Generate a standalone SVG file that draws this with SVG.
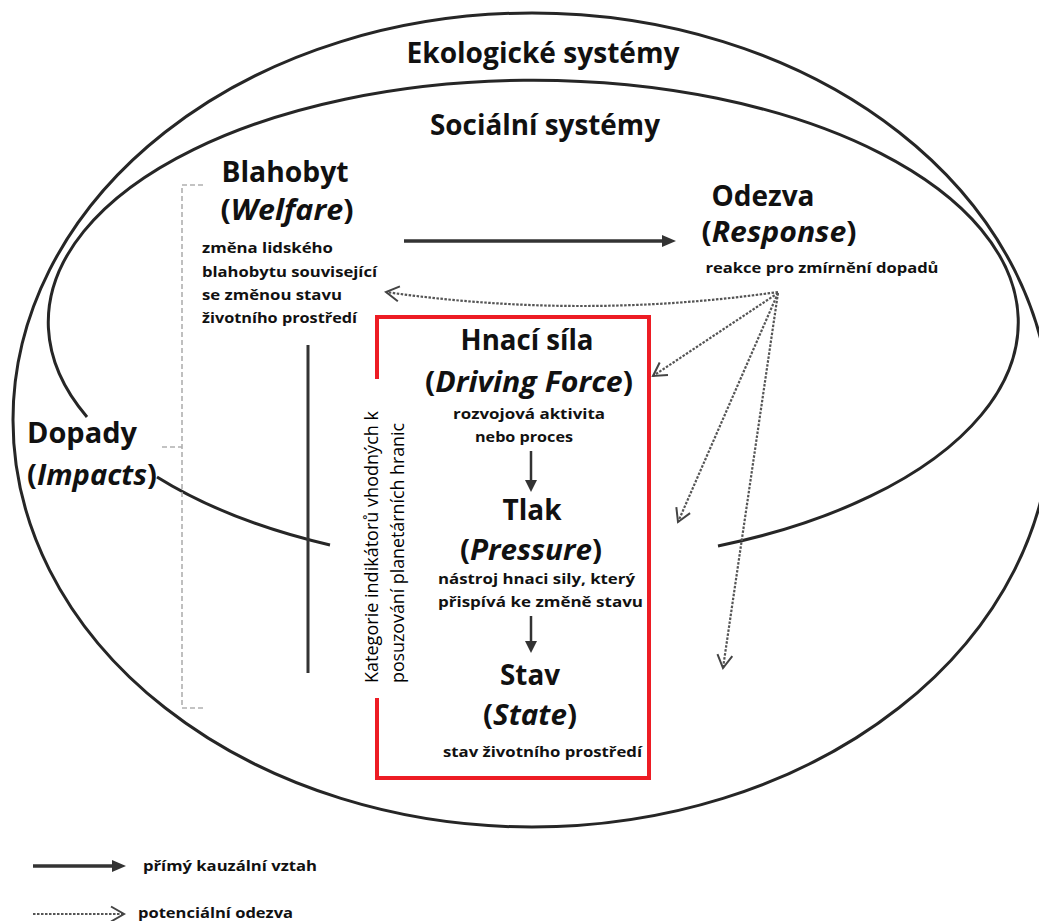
<svg xmlns="http://www.w3.org/2000/svg" width="1039" height="921" viewBox="0 0 1039 921">
<defs>
<style>
.bg{fill:#fff}
.ring{fill:none;stroke:#262626;stroke-width:3}
.t{font-family:"Open Sans","Liberation Sans",sans-serif;fill:#111}
.title{font-size:28px;font-weight:700}
.head{font-size:28px;font-weight:700}
.desc{font-size:15px;font-weight:700}
.side{font-size:18px;font-weight:400;fill:#000}
.leg{font-size:14px;font-weight:700}
.solid{stroke:#333;stroke-width:3.5;fill:none}
.solid2{stroke:#333;stroke-width:2.5;fill:none}
.dot{stroke:#555;stroke-width:2.2;stroke-dasharray:2.5 1.5;fill:none}
.bracket{stroke:#b0b0b0;stroke-width:1.6;stroke-dasharray:5 3;fill:none}
.red{stroke:#ed1c24;stroke-width:4;fill:none}
</style>
<marker id="solidHead" viewBox="0 0 14 12" refX="6" refY="6" markerWidth="14" markerHeight="12" markerUnits="userSpaceOnUse" orient="auto">
<path d="M0,0 L14,6 L0,12 Z" fill="#333"/>
</marker>
<marker id="smallHead" viewBox="0 0 12 12" refX="4" refY="6" markerWidth="12" markerHeight="12" markerUnits="userSpaceOnUse" orient="auto">
<path d="M0,0 L12,6 L0,12 Z" fill="#333"/>
</marker>
<marker id="openHead" viewBox="-16 -10 19 20" refX="0" refY="0" markerWidth="19" markerHeight="20" markerUnits="userSpaceOnUse" orient="auto">
<path d="M-13,-7.5 L0,0 L-13,7.5" fill="none" stroke="#444" stroke-width="2"/>
</marker>
</defs>
<rect class="bg" x="0" y="0" width="1039" height="921"/>

<g id="ecological-systems">
<ellipse class="ring" cx="532" cy="420" rx="519" ry="407"/>
<text class="t title" x="543" y="63" text-anchor="middle" textLength="273" lengthAdjust="spacingAndGlyphs">Ekologické systémy</text>
</g>

<g id="social-systems">
<path class="ring" d="M718,546 A485,242 0 1 0 87,417"/>
<path class="ring" d="M157,477 A485,242 0 0 0 330,545"/>
<text class="t title" x="545" y="135" text-anchor="middle" textLength="230" lengthAdjust="spacingAndGlyphs">Sociální systémy</text>
</g>

<g id="welfare">
<text class="t head" x="285" y="182" text-anchor="middle" textLength="127" lengthAdjust="spacingAndGlyphs">Blahobyt</text>
<text class="t head" x="287" y="220" text-anchor="middle" textLength="133" lengthAdjust="spacingAndGlyphs">(<tspan font-style="italic">Welfare</tspan>)</text>
<text class="t desc" x="202" y="253" textLength="131" lengthAdjust="spacingAndGlyphs">změna lidského</text>
<text class="t desc" x="202" y="277" textLength="175" lengthAdjust="spacingAndGlyphs">blahobytu související</text>
<text class="t desc" x="202" y="300" textLength="140" lengthAdjust="spacingAndGlyphs">se změnou stavu</text>
<text class="t desc" x="202" y="323" textLength="155" lengthAdjust="spacingAndGlyphs">životního prostředí</text>
</g>

<g id="response">
<text class="t head" x="763" y="206" text-anchor="middle" textLength="103" lengthAdjust="spacingAndGlyphs">Odezva</text>
<text class="t head" x="779" y="242" text-anchor="middle" textLength="155" lengthAdjust="spacingAndGlyphs">(<tspan font-style="italic">Response</tspan>)</text>
<text class="t desc" x="822" y="273" text-anchor="middle" textLength="233" lengthAdjust="spacingAndGlyphs">reakce pro zmírnění dopadů</text>
</g>

<g id="impacts">
<text class="t head" x="27" y="443" textLength="110" lengthAdjust="spacingAndGlyphs">Dopady</text>
<text class="t head" x="27" y="485" textLength="130" lengthAdjust="spacingAndGlyphs">(<tspan font-style="italic">Impacts</tspan>)</text>
</g>

<g id="indicator-bracket">
<path class="bracket" d="M203,185 L182,185 L182,708 L203,708 M162,447 L182,447"/>
<line x1="308" y1="345" x2="308" y2="673" stroke="#333" stroke-width="3"/>
<text class="t side" transform="translate(378,683) rotate(-90)" x="0" y="0" textLength="272" lengthAdjust="spacingAndGlyphs">Kategorie indikátorů vhodných k</text>
<text class="t side" transform="translate(404,683) rotate(-90)" x="0" y="0" textLength="260" lengthAdjust="spacingAndGlyphs">posuzování planetárních hranic</text>
</g>

<g id="dpsir-box">
<path class="red" d="M377,379 L377,317 L649,317 L649,778 L377,778 L377,698"/>
</g>

<g id="driving-force">
<text class="t head" x="527" y="350" text-anchor="middle" textLength="133" lengthAdjust="spacingAndGlyphs">Hnací síla</text>
<text class="t head" x="529" y="392" text-anchor="middle" textLength="208" lengthAdjust="spacingAndGlyphs">(<tspan font-style="italic">Driving Force</tspan>)</text>
<text class="t desc" x="529" y="419" text-anchor="middle" textLength="152" lengthAdjust="spacingAndGlyphs">rozvojová aktivita</text>
<text class="t desc" x="524" y="442" text-anchor="middle" textLength="98" lengthAdjust="spacingAndGlyphs">nebo proces</text>
</g>

<g id="pressure">
<text class="t head" x="532" y="520" text-anchor="middle" textLength="59" lengthAdjust="spacingAndGlyphs">Tlak</text>
<text class="t head" x="531" y="560" text-anchor="middle" textLength="142" lengthAdjust="spacingAndGlyphs">(<tspan font-style="italic">Pressure</tspan>)</text>
<text class="t desc" x="438" y="584" textLength="197" lengthAdjust="spacingAndGlyphs">nástroj hnaci sily, který</text>
<text class="t desc" x="438" y="607" textLength="205" lengthAdjust="spacingAndGlyphs">přispívá ke změně stavu</text>
</g>

<g id="state">
<text class="t head" x="530" y="685" text-anchor="middle" textLength="60" lengthAdjust="spacingAndGlyphs">Stav</text>
<text class="t head" x="530" y="725" text-anchor="middle" textLength="94" lengthAdjust="spacingAndGlyphs">(<tspan font-style="italic">State</tspan>)</text>
<text class="t desc" x="443" y="757" textLength="199" lengthAdjust="spacingAndGlyphs">stav životního prostředí</text>
</g>

<g id="connectors">
<line class="solid" x1="404" y1="241" x2="668" y2="241" marker-end="url(#solidHead)"/>
<line class="solid2" x1="531" y1="451" x2="531" y2="484" marker-end="url(#smallHead)"/>
<line class="solid2" x1="531" y1="616" x2="531" y2="645" marker-end="url(#smallHead)"/>
<path class="dot" d="M778,292 Q582,320 386,292" marker-end="url(#openHead)"/>
<line class="dot" x1="778" y1="293" x2="653" y2="376" marker-end="url(#openHead)"/>
<line class="dot" x1="778" y1="293" x2="678" y2="522" marker-end="url(#openHead)"/>
<line class="dot" x1="778" y1="293" x2="723" y2="668" marker-end="url(#openHead)"/>
</g>

<g id="legend">
<line class="solid" x1="33" y1="866" x2="118" y2="866" marker-end="url(#solidHead)"/>
<text class="t leg" x="143" y="871" textLength="174" lengthAdjust="spacingAndGlyphs">přímý kauzální vztah</text>
<line class="dot" x1="33" y1="914" x2="124" y2="914" marker-end="url(#openHead)"/>
<text class="t leg" x="138" y="918" textLength="155" lengthAdjust="spacingAndGlyphs">potenciální odezva</text>
</g>
</svg>
